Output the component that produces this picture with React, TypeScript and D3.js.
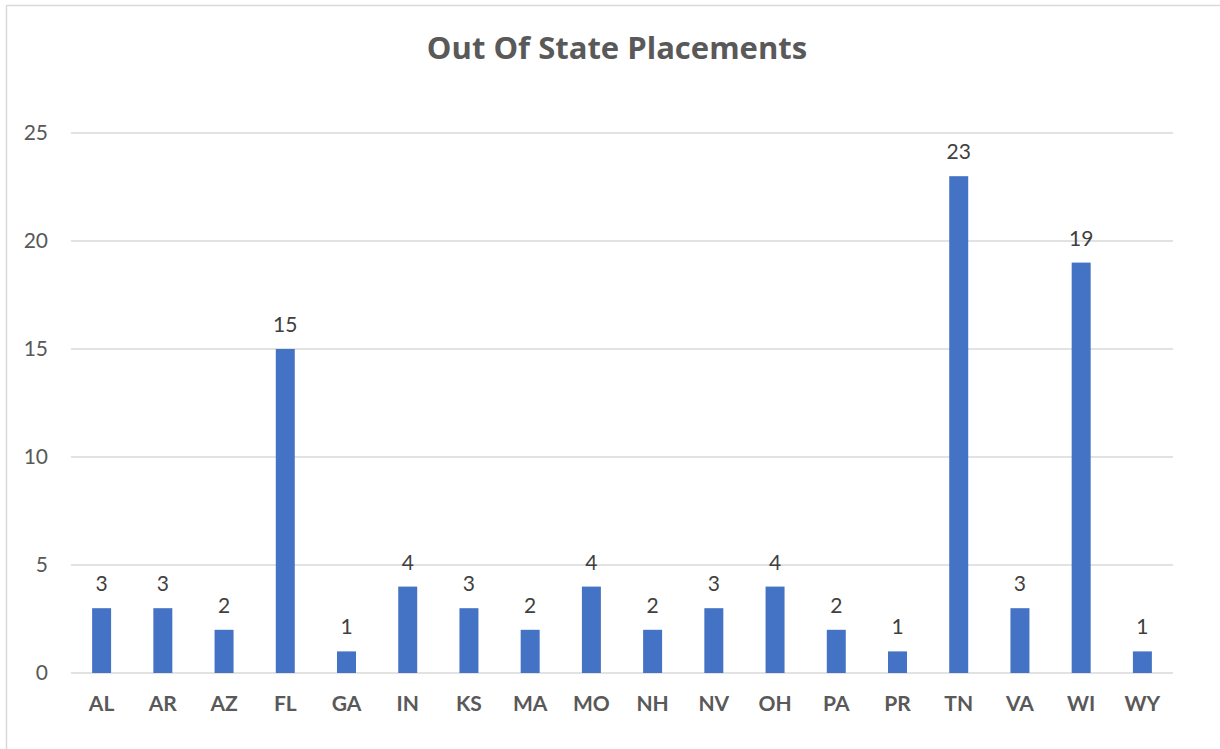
import React from 'react'
import * as d3 from 'd3'

const states = ['AL', 'AR', 'AZ', 'FL', 'GA', 'IN', 'KS', 'MA', 'MO', 'NH', 'NV', 'OH', 'PA', 'PR', 'TN', 'VA', 'WI', 'WY']
const placements = [3, 3, 2, 15, 1, 4, 3, 2, 4, 2, 3, 4, 2, 1, 23, 3, 19, 1]
const yTicks = [0, 5, 10, 15, 20, 25]

const width = 1220
const height = 749
const font = "Lato, 'Open Sans', sans-serif"

export default function App() {
  const x = d3.scaleBand<string>()
    .domain(states)
    .range([71, 1173])
    .paddingInner(0.69)
    .paddingOuter(0.345)
  const y = d3.scaleLinear().domain([0, 25]).range([673, 133])

  return (
    <svg width={width} height={height} style={{ position: 'absolute', left: 0, top: 0, background: '#fff' }}>
      <rect x={6.5} y={5.5} width={1230} height={760} fill="#fff" stroke="#d9d9d9" strokeWidth={1.5} />
      <text x={617} y={59} textAnchor="middle" fontFamily="'Open Sans', sans-serif" fontWeight="bold" fontSize={31} fill="#595959">
        Out Of State Placements
      </text>
      {yTicks.map(t => (
        <g key={t}>
          <line x1={71} x2={1173} y1={y(t)} y2={y(t)} stroke="#d9d9d9" strokeWidth={1.5} />
          <text x={48} y={y(t)} dy="0.35em" textAnchor="end" fontFamily={font} fontSize={21} fill="#595959">{t}</text>
        </g>
      ))}
      {states.map((s, i) => (
        <g key={s}>
          <rect x={x(s)} y={y(placements[i])} width={x.bandwidth()} height={y(0) - y(placements[i])} fill="#4472c4" />
          <text x={(x(s) || 0) + x.bandwidth() / 2} y={y(placements[i]) - 17} textAnchor="middle" fontFamily={font} fontSize={21} fill="#404040">
            {placements[i]}
          </text>
          <text x={(x(s) || 0) + x.bandwidth() / 2} y={711} textAnchor="middle" fontFamily={font} fontWeight="bold" fontSize={21} fill="#595959">
            {s}
          </text>
        </g>
      ))}
    </svg>
  )
}
